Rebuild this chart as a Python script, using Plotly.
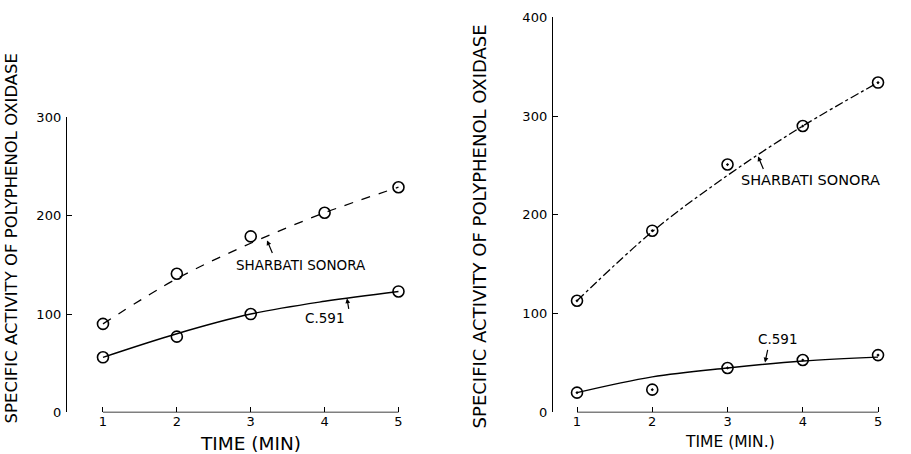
import plotly.graph_objects as go

# ---------------- data ----------------
time_min = [1, 2, 3, 4, 5]

# Left panel
left_sharbati_pts = [90, 141, 179, 203, 229]
left_sharbati_fit = [90, 136, 172, 203, 229]
left_c591_x = [1, 2, 3, 5]
left_c591_pts = [56, 77, 100, 123]
left_c591_fit = [56, 80, 100, 113, 123]

# Right panel
right_sharbati_pts = [113, 184, 251, 290, 334]
right_sharbati_fit = [113, 183, 240, 290, 334]
right_c591_pts = [20, 23, 45, 53, 58]
right_c591_fit = [20, 36, 45, 52, 56]

left_yticks = [0, 100, 200, 300]
right_yticks = [0, 100, 200, 300, 400]
ytitle = "SPECIFIC ACTIVITY OF POLYPHENOL OXIDASE"

FONT = "DejaVu Sans"
BLACK = "black"

fig = go.Figure()

mk = dict(size=11, color=BLACK, line=dict(width=1.6))
# left panel
fig.add_trace(go.Scatter(x=time_min, y=left_sharbati_fit, mode="lines", line_shape="spline",
                         line=dict(color=BLACK, width=1.3, dash="dash"), xaxis="x", yaxis="y",
                         hoverinfo="skip"))
fig.add_trace(go.Scatter(x=time_min, y=left_sharbati_pts, mode="markers",
                         marker=dict(symbol="circle-open", **mk), xaxis="x", yaxis="y", cliponaxis=False))
fig.add_trace(go.Scatter(x=time_min, y=left_c591_fit, mode="lines", line_shape="spline",
                         line=dict(color=BLACK, width=1.4), xaxis="x", yaxis="y", hoverinfo="skip"))
fig.add_trace(go.Scatter(x=left_c591_x, y=left_c591_pts, mode="markers",
                         marker=dict(symbol="circle-open", **mk), xaxis="x", yaxis="y", cliponaxis=False))
# right panel
fig.add_trace(go.Scatter(x=time_min, y=right_sharbati_fit, mode="lines", line_shape="spline",
                         line=dict(color=BLACK, width=1.3, dash="dashdot"), xaxis="x2", yaxis="y2",
                         hoverinfo="skip"))
fig.add_trace(go.Scatter(x=time_min, y=right_sharbati_pts, mode="markers",
                         marker=dict(symbol="circle-open-dot", **mk), xaxis="x2", yaxis="y2", cliponaxis=False))
fig.add_trace(go.Scatter(x=time_min, y=right_c591_fit, mode="lines", line_shape="spline",
                         line=dict(color=BLACK, width=1.4), xaxis="x2", yaxis="y2", hoverinfo="skip"))
fig.add_trace(go.Scatter(x=time_min, y=right_c591_pts, mode="markers",
                         marker=dict(symbol="circle-open-dot", **mk), xaxis="x2", yaxis="y2", cliponaxis=False))

W, H = 911, 454
# observed vertical mapping of the rendered page: out = 6.6 + 0.967 * p
def px_x(p):
    return p / W
def px_y(p):
    q = (p - 6.6) / 0.967
    return (H - q) / H

xaxis_common = dict(tickmode="array", tickvals=time_min, ticktext=[str(v) for v in time_min],
                    ticks="inside", ticklen=5, tickwidth=1.2, tickcolor=BLACK,
                    showline=False, showgrid=False, zeroline=False,
                    tickfont=dict(family=FONT, size=13, color=BLACK))
yaxis_common = dict(ticks="inside", ticklen=5, tickwidth=1.2, tickcolor=BLACK,
                    showline=True, linecolor=BLACK, linewidth=1.4,
                    showgrid=False, zeroline=False, tickmode="array",
                    tickfont=dict(family=FONT, size=13, color=BLACK), ticklabelstandoff=2)

fig.update_layout(
    width=W, height=H, margin=dict(l=0, r=0, t=0, b=0),
    paper_bgcolor="white", plot_bgcolor="white", showlegend=False,
    font=dict(family=FONT, color=BLACK),
    xaxis=dict(domain=[px_x(67), px_x(410)], range=[0.513, 5.156], anchor="y", **xaxis_common),
    yaxis=dict(domain=[px_y(412), px_y(117)], range=[0, 300], anchor="x",
               tickvals=left_yticks, **yaxis_common),
    xaxis2=dict(domain=[px_x(553), px_x(890)], range=[0.681, 5.159], anchor="y2", **xaxis_common),
    yaxis2=dict(domain=[px_y(412), px_y(17)], range=[0, 400], anchor="x2",
                tickvals=right_yticks, **yaxis_common),
)

for xr, yr in (("x", "y"), ("x2", "y2")):
    fig.add_shape(type="line", xref=xr, yref=yr, x0=time_min[0], x1=time_min[-1], y0=0, y1=0,
                  line=dict(color=BLACK, width=1.4))

annotations = [
    dict(text=ytitle, xref="paper", yref="paper", x=px_x(11), y=px_y(238), textangle=-90,
         showarrow=False, font=dict(family=FONT, size=16.5, color=BLACK), xanchor="center", yanchor="middle"),
    dict(text=ytitle, xref="paper", yref="paper", x=px_x(479), y=px_y(226), textangle=-90,
         showarrow=False, font=dict(family=FONT, size=18, color=BLACK), xanchor="center", yanchor="middle"),
    dict(text="TIME (MIN)", xref="paper", yref="paper", x=px_x(250), y=px_y(443),
         showarrow=False, font=dict(family=FONT, size=18.5, color=BLACK), xanchor="center", yanchor="middle"),
    dict(text="TIME (MIN.)", xref="paper", yref="paper", x=px_x(730), y=px_y(442),
         showarrow=False, font=dict(family=FONT, size=15.5, color=BLACK), xanchor="center", yanchor="middle"),
    dict(text="SHARBATI SONORA", xref="paper", yref="paper", x=px_x(301), y=px_y(265),
         showarrow=False, font=dict(family=FONT, size=13.5, color=BLACK), xanchor="center", yanchor="middle"),
    dict(text="C.591", xref="paper", yref="paper", x=px_x(325), y=px_y(318),
         showarrow=False, font=dict(family=FONT, size=13.5, color=BLACK), xanchor="center", yanchor="middle"),
    dict(text="SHARBATI SONORA", xref="paper", yref="paper", x=px_x(810), y=px_y(180),
         showarrow=False, font=dict(family=FONT, size=14.5, color=BLACK), xanchor="center", yanchor="middle"),
    dict(text="C.591", xref="paper", yref="paper", x=px_x(778), y=px_y(339),
         showarrow=False, font=dict(family=FONT, size=13.5, color=BLACK), xanchor="center", yanchor="middle"),
]
arrows = [
    (267, 240, 273, 254),
    (347, 298, 349, 310),
    (758, 156, 764, 170),
    (765, 362, 768, 348),
]
for tx, ty, sx, sy in arrows:
    annotations.append(dict(text="", xref="paper", yref="paper", x=px_x(tx), y=px_y(ty),
                            ax=sx - tx, ay=sy - ty,
                            showarrow=True, arrowhead=2, arrowsize=0.8, arrowwidth=1.2,
                            arrowcolor=BLACK, standoff=0))
fig.update_layout(annotations=annotations)

fig.write_html("out.html", config={"displayModeBar": False},
               post_script="document.body.style.margin='0';")
